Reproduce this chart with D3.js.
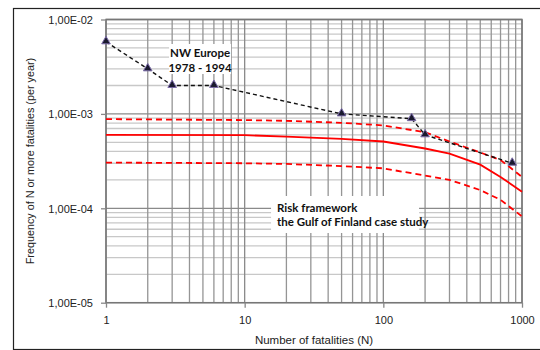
<!DOCTYPE html>
<html>
<head>
<meta charset="utf-8">
<script src="https://cdn.jsdelivr.net/npm/d3@7"></script>
<style>
  body { margin: 0; background: #fff; }
  svg text { font-family: "Liberation Sans", "DejaVu Sans", sans-serif; }
</style>
</head>
<body>
<div id="wrapper"></div>
<script>
// NW Europe 1978 - 1994 observed points
const nwN = [1, 2, 3, 6, 50, 160, 200, 850]
const nwF = [5.8e-3, 3.0e-3, 2.0e-3, 2.0e-3, 1.0e-3, 8.9e-4, 6.0e-4, 3.0e-4]

// Risk framework, Gulf of Finland case study
const gofN = [1, 10, 20, 50, 100, 200, 300, 500, 700, 1000]
const gofMid = [6.0e-4, 5.95e-4, 5.75e-4, 5.45e-4, 5.1e-4, 4.3e-4, 3.8e-4, 2.9e-4, 2.15e-4, 1.5e-4]
const gofUpper = [8.8e-4, 8.6e-4, 8.45e-4, 8.05e-4, 7.55e-4, 6.4e-4, 5.1e-4, 3.9e-4, 3.25e-4, 2.15e-4]
const gofLower = [3.05e-4, 3.0e-4, 2.95e-4, 2.8e-4, 2.65e-4, 2.22e-4, 2.0e-4, 1.56e-4, 1.23e-4, 8.2e-5]

const xTicks = [1, 10, 100, 1000]
const yTicks = [1e-5, 1e-4, 1e-3, 1e-2]
const yTickLabels = ["1,00E-05", "1,00E-04", "1,00E-03", "1,00E-02"]

function drawChart() {
  const dimensions = {
    width: 540,
    height: 350,
    margin: { top: 19.5, right: 18, bottom: 47.3, left: 106 }
  }
  dimensions.boundedWidth = dimensions.width
    - dimensions.margin.left - dimensions.margin.right
  dimensions.boundedHeight = dimensions.height
    - dimensions.margin.top - dimensions.margin.bottom

  const wrapper = d3.select("#wrapper")
    .append("svg")
    .attr("width", dimensions.width)
    .attr("height", dimensions.height)

  // outer chart frame (extends past the picture on the right/bottom)
  wrapper.append("rect")
    .attr("x", 13.5).attr("y", 8.5)
    .attr("width", 540).attr("height", 341)
    .attr("fill", "none")
    .attr("stroke", "#222")
    .attr("stroke-width", 1.2)

  const bounds = wrapper.append("g")
    .attr("transform", `translate(${dimensions.margin.left}, ${dimensions.margin.top})`)

  const xScale = d3.scaleLog()
    .domain([1, 1000])
    .range([0, dimensions.boundedWidth])
  const yScale = d3.scaleLog()
    .domain([1e-5, 1e-2])
    .range([dimensions.boundedHeight, 0])

  // grid
  const minorX = []
  for (let d = 1; d < 1000; d *= 10)
    for (let k = 2; k <= 9; k++) minorX.push(d * k)
  const minorY = []
  for (let d = 1e-5; d < 1e-2 * 0.99; d *= 10)
    for (let k = 2; k <= 9; k++) minorY.push(d * k)

  const grid = bounds.append("g")
  grid.selectAll(".hminor").data(minorY).join("line")
    .attr("x1", 0).attr("x2", dimensions.boundedWidth)
    .attr("y1", d => yScale(d)).attr("y2", d => yScale(d))
    .attr("stroke", "#c8c8c8").attr("stroke-width", 1.3)
  grid.selectAll(".vminor").data(minorX).join("line")
    .attr("y1", 0).attr("y2", dimensions.boundedHeight)
    .attr("x1", d => xScale(d)).attr("x2", d => xScale(d))
    .attr("stroke", "#959595").attr("stroke-width", 1.3)
  grid.selectAll(".hmajor").data(yTicks).join("line")
    .attr("x1", 0).attr("x2", dimensions.boundedWidth)
    .attr("y1", d => yScale(d)).attr("y2", d => yScale(d))
    .attr("stroke", "#8a8a8a").attr("stroke-width", 1.3)
  grid.selectAll(".vmajor").data(xTicks).join("line")
    .attr("y1", 0).attr("y2", dimensions.boundedHeight)
    .attr("x1", d => xScale(d)).attr("x2", d => xScale(d))
    .attr("stroke", "#8a8a8a").attr("stroke-width", 1.3)

  // plot border
  bounds.append("rect")
    .attr("width", dimensions.boundedWidth)
    .attr("height", dimensions.boundedHeight)
    .attr("fill", "none")
    .attr("stroke", "#777")
    .attr("stroke-width", 1.5)

  // annotation boxes (white background hides grid)
  const nwBox = { x: xScale(2.85), y: yScale(5.5e-3), w: 62, h: 30 }
  bounds.append("rect")
    .attr("x", nwBox.x).attr("y", nwBox.y)
    .attr("width", nwBox.w).attr("height", nwBox.h)
    .attr("fill", "#fff")
  const nwText = bounds.append("text")
    .attr("text-anchor", "middle")
    .attr("font-size", 11.5).attr("font-weight", "bold").attr("fill", "#111")
    .style("font-family", "Lato, sans-serif")
  nwText.append("tspan").attr("x", nwBox.x + nwBox.w / 2).attr("y", nwBox.y + 12.5).text("NW Europe")
  nwText.append("tspan").attr("x", nwBox.x + nwBox.w / 2).attr("y", nwBox.y + 27.5).text("1978 - 1994")

  const gofBox = { x: xScale(15.5), y: yScale(1.35e-4), w: 148, h: 37 }
  bounds.append("rect")
    .attr("x", gofBox.x).attr("y", gofBox.y)
    .attr("width", gofBox.w).attr("height", gofBox.h)
    .attr("fill", "#fff")
  const gofText = bounds.append("text")
    .attr("font-size", 11.5).attr("font-weight", "bold").attr("fill", "#111")
    .style("font-family", "Lato, sans-serif")
  gofText.append("tspan").attr("x", gofBox.x + 6).attr("y", gofBox.y + 16).text("Risk framework")
  gofText.append("tspan").attr("x", gofBox.x + 6).attr("y", gofBox.y + 30.5).text("the Gulf of Finland case study")

  // lines
  const line = d3.line()
    .x(d => xScale(d[0]))
    .y(d => yScale(d[1]))

  const series = [
    { n: gofN, f: gofUpper, dash: "6,4" },
    { n: gofN, f: gofLower, dash: "6,4" },
    { n: gofN, f: gofMid, dash: null }
  ]
  bounds.selectAll(".red").data(series).join("path")
    .attr("d", s => line(d3.zip(s.n, s.f)))
    .attr("fill", "none")
    .attr("stroke", "#ff0000")
    .attr("stroke-width", 1.8)
    .attr("stroke-dasharray", s => s.dash)

  const nwData = d3.zip(nwN, nwF)
  bounds.append("path")
    .attr("d", line(nwData))
    .attr("fill", "none")
    .attr("stroke", "#111")
    .attr("stroke-width", 1.4)
    .attr("stroke-dasharray", "4,3")

  bounds.selectAll(".tri").data(nwData).join("path")
    .attr("d", d3.symbol(d3.symbolTriangle, 32))
    .attr("transform", d => `translate(${xScale(d[0])}, ${yScale(d[1]) - 0.5})`)
    .attr("fill", "#1a1a2e")
    .attr("stroke", "#7a6aa8")
    .attr("stroke-width", 1)

  // axes ticks and labels
  const yAxis = d3.axisLeft(yScale)
    .tickValues(yTicks)
    .tickSize(5)
    .tickFormat((d, i) => yTickLabels[i])
  const yAxisG = bounds.append("g").call(yAxis)
  yAxisG.select(".domain").remove()
  yAxisG.selectAll(".tick line").attr("stroke", "#888").attr("stroke-width", 1.3)
  yAxisG.selectAll(".tick text")
    .attr("x", -13).attr("dy", "0.35em")
    .attr("font-size", 11).attr("fill", "#222")
    .style("font-family", "Liberation Sans, sans-serif")

  const xAxis = d3.axisBottom(xScale)
    .tickValues(xTicks)
    .tickSize(5)
    .tickFormat(d3.format("d"))
  const xAxisG = bounds.append("g")
    .attr("transform", `translate(0, ${dimensions.boundedHeight})`)
    .call(xAxis)
  xAxisG.select(".domain").remove()
  xAxisG.selectAll(".tick line").attr("stroke", "#888").attr("stroke-width", 1.3)
  xAxisG.selectAll(".tick text")
    .attr("y", 14).attr("dy", "0.71em")
    .attr("font-size", 11).attr("fill", "#222")
    .style("font-family", "Liberation Sans, sans-serif")

  // axis titles
  bounds.append("text")
    .attr("x", dimensions.boundedWidth / 2)
    .attr("y", dimensions.boundedHeight + 41.5)
    .attr("text-anchor", "middle")
    .attr("font-size", 11.5).attr("fill", "#222")
    .text("Number of fatalities (N)")

  bounds.append("text")
    .attr("transform", `translate(${-72}, ${dimensions.boundedHeight / 2}) rotate(-90)`)
    .attr("text-anchor", "middle")
    .attr("font-size", 10.8).attr("fill", "#222")
    .text("Frequency of N or more fatalities (per year)")
}

drawChart()
</script>
</body>
</html>
